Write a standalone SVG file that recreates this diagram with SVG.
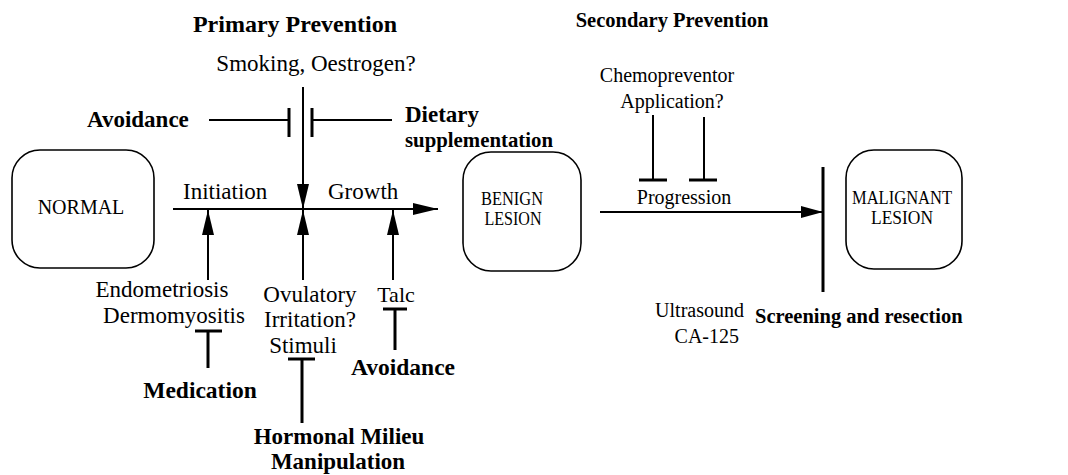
<svg xmlns="http://www.w3.org/2000/svg" width="1068" height="475" viewBox="0 0 1068 475">
<style>
.t{font-family:"Liberation Serif","Times New Roman",Times,serif;fill:#000}
.b{font-weight:bold}
.box{fill:#fff;stroke:#000;stroke-width:1.6}
.ln{stroke:#000;stroke-width:2;fill:none}
.bar{stroke:#000;stroke-width:3;fill:none}
.c{text-anchor:middle}
.e{text-anchor:end}
</style>
<defs>
<marker id="ah" viewBox="0 0 25 12" refX="25" refY="6" markerWidth="25" markerHeight="12" markerUnits="userSpaceOnUse" orient="auto">
<path d="M0,0 L25,6 L0,12 Z" fill="#000"/>
</marker>
<marker id="ahs" viewBox="0 0 22 12" refX="22" refY="6" markerWidth="22" markerHeight="12" markerUnits="userSpaceOnUse" orient="auto">
<path d="M0,0 L22,6 L0,12 Z" fill="#000"/>
</marker>
</defs>
<rect width="1068" height="475" fill="#fff"/>

<g id="normal"><rect class="box" x="12" y="150" width="142" height="118" rx="28"/><text class="t c" x="81" y="214" font-size="20">NORMAL</text></g>
<g id="benign"><rect class="box" x="463" y="152" width="118" height="119" rx="28"/><text class="t c" x="512" y="205" font-size="19" textLength="62" lengthAdjust="spacingAndGlyphs">BENIGN</text><text class="t c" x="513" y="225" font-size="19" textLength="57" lengthAdjust="spacingAndGlyphs">LESION</text></g>
<g id="malignant"><rect class="box" x="846" y="150" width="116" height="119" rx="28"/><text class="t c" x="902" y="204" font-size="19" textLength="100" lengthAdjust="spacingAndGlyphs">MALIGNANT</text><text class="t c" x="902" y="224" font-size="19" textLength="62" lengthAdjust="spacingAndGlyphs">LESION</text></g>

<g id="connectors">
<line class="ln" x1="173" y1="209" x2="438" y2="209" marker-end="url(#ah)"/>
<line class="ln" x1="303" y1="87" x2="303" y2="209" marker-end="url(#ah)"/>
<line class="ln" x1="209" y1="120" x2="289" y2="120"/>
<line class="bar" x1="289" y1="108" x2="289" y2="137"/>
<line class="ln" x1="312" y1="120" x2="392" y2="120"/>
<line class="bar" x1="312" y1="108" x2="312" y2="137"/>
<line class="ln" x1="208" y1="280" x2="208" y2="210" marker-end="url(#ah)"/>
<line class="ln" x1="303" y1="280" x2="303" y2="210" marker-end="url(#ah)"/>
<line class="ln" x1="393" y1="280" x2="393" y2="210" marker-end="url(#ah)"/>
<line class="bar" x1="195" y1="331" x2="222" y2="331"/>
<line class="bar" x1="208" y1="331" x2="208" y2="368"/>
<line class="bar" x1="288" y1="359" x2="315" y2="359"/>
<line class="bar" x1="302" y1="359" x2="302" y2="423"/>
<line class="bar" x1="383" y1="309" x2="407" y2="309"/>
<line class="bar" x1="395" y1="309" x2="395" y2="350"/>
<line class="ln" x1="600" y1="212" x2="823" y2="212" marker-end="url(#ahs)"/>
<line class="ln" x1="653" y1="115" x2="653" y2="180"/>
<line class="bar" x1="639" y1="180" x2="667" y2="180"/>
<line class="ln" x1="704" y1="117" x2="704" y2="180"/>
<line class="bar" x1="689" y1="180" x2="717" y2="180"/>
<line class="bar" x1="823" y1="167" x2="823" y2="292"/>
</g>

<g id="labels">
<text class="t b c" x="295" y="32" font-size="24">Primary Prevention</text>
<text class="t c" x="316" y="71" font-size="23">Smoking, Oestrogen?</text>
<text class="t b" x="87" y="127" font-size="23">Avoidance</text>
<text class="t b" x="405" y="122" font-size="23">Dietary</text>
<text class="t b" x="405" y="147" font-size="22" textLength="148" lengthAdjust="spacingAndGlyphs">supplementation</text>
<text class="t" x="183" y="199" font-size="23">Initiation</text>
<text class="t" x="328" y="199" font-size="23">Growth</text>
<text class="t b c" x="672" y="27" font-size="20.5">Secondary Prevention</text>
<text class="t c" x="667" y="82" font-size="20">Chemopreventor</text>
<text class="t c" x="672" y="108" font-size="20">Application?</text>
<text class="t c" x="684" y="204" font-size="20">Progression</text>
<text class="t c" x="162" y="297" font-size="23">Endometriosis</text>
<text class="t c" x="174" y="323" font-size="23">Dermomyositis</text>
<text class="t b c" x="200" y="398" font-size="23.5">Medication</text>
<text class="t c" x="310" y="302" font-size="23">Ovulatory</text>
<text class="t c" x="310" y="327" font-size="23">Irritation?</text>
<text class="t c" x="303" y="353" font-size="23">Stimuli</text>
<text class="t c" x="396" y="302" font-size="22">Talc</text>
<text class="t b c" x="403" y="375" font-size="23.5">Avoidance</text>
<text class="t b c" x="339" y="444" font-size="23">Hormonal Milieu</text>
<text class="t b c" x="338" y="469" font-size="23">Manipulation</text>
<text class="t e" x="744" y="317" font-size="20">Ultrasound</text>
<text class="t e" x="739" y="343" font-size="20">CA-125</text>
<text class="t b" x="755" y="323" font-size="20.5">Screening and resection</text>
</g>
</svg>
